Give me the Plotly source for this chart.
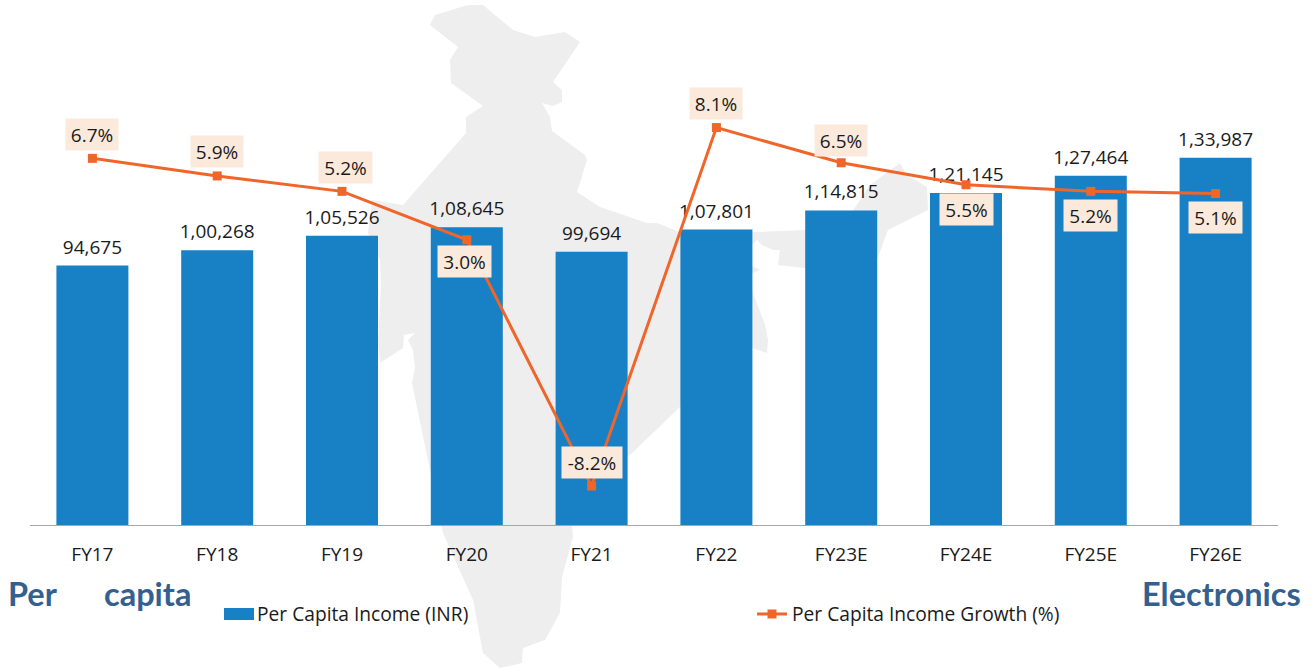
import plotly.graph_objects as go

categories = ["FY17", "FY18", "FY19", "FY20", "FY21", "FY22", "FY23E", "FY24E", "FY25E", "FY26E"]
income = [94675, 100268, 105526, 108645, 99694, 107801, 114815, 121145, 127464, 133987]
income_labels = ["94,675", "1,00,268", "1,05,526", "1,08,645", "99,694", "1,07,801", "1,14,815", "1,21,145", "1,27,464", "1,33,987"]
growth = [6.7, 5.9, 5.2, 3.0, -8.2, 8.1, 6.5, 5.5, 5.2, 5.1]
growth_labels = ["6.7%", "5.9%", "5.2%", "3.0%", "-8.2%", "8.1%", "6.5%", "5.5%", "5.2%", "5.1%"]

W, H = 1314, 669
L, R, T, B = 30, 1278, 0, 525
FONT = "Open Sans"
BLUE, ORANGE, INK = "#1880C4", "#F0652A", "#1A1A1A"

# label box offsets from each line point: (x px, y px up)
label_shift = [(0, 24), (0, 24), (3, 24), (-2, -22), (0, 24), (0, 24), (0, 22), (0, -25), (0, -24), (0, -24)]
label_width = [52, 52, 53, 53, 60, 52, 52, 53, 53, 53]

# background silhouette outline, page pixels
map_outline = [(430,25),(435,15),(468,5),(483,5),(513,30),(535,37),(565,32),(580,42),(553,82),(562,90),(562,102),
    (553,106),(542,103),(550,117),(552,131),(585,155),(587,160),(577,192),(600,207),(647,223),(657,223),(680,232),
    (720,235),(755,232),(805,230),(850,215),(870,185),(900,163),(907,175),(927,187),(928,210),(888,230),(878,257),
    (805,268),(778,265),(780,250),(773,250),(762,245),(757,240),(752,245),(745,262),(760,270),(748,275),(752,290),
    (765,325),(768,340),(767,353),(752,348),(720,385),(680,407),(630,455),(600,470),(578,490),(572,525),(573,537),
    (562,577),(560,613),(545,640),(523,648),(522,663),(500,668),(483,653),(473,600),(443,533),(412,383),(415,368),
    (413,350),(408,340),(415,333),(404,335),(403,348),(380,363),(378,340),(381,285),(380,260),(368,233),(372,200),
    (403,205),(466,133),(466,117),(483,106),(451,83),(450,60),(458,47)]

def px(x): return (x - L) / (R - L)
def py(y): return (B - y) / (B - T)

map_path = "M" + " L".join(f"{px(x):.5f},{py(y):.5f}" for x, y in map_outline) + " Z"

fig = go.Figure()
fig.add_bar(x=categories, y=income, name="Per Capita Income (INR)", width=0.577,
            marker=dict(color=BLUE, line=dict(width=0)))
fig.add_scatter(x=categories, y=income, mode="markers+text", text=income_labels, textposition="top center",
                marker=dict(size=10, opacity=0), showlegend=False, hoverinfo="skip",
                textfont=dict(family=FONT, size=19, color=INK), cliponaxis=False)
fig.add_scatter(x=categories, y=growth, yaxis="y2", mode="lines+markers", name="Per Capita Income Growth (%)",
                line=dict(color=ORANGE, width=3), marker=dict(symbol="square", size=9, color=ORANGE))

annotations = []
for c, g, t, (dx, dy), w in zip(categories, growth, growth_labels, label_shift, label_width):
    annotations.append(dict(x=c, y=g, xref="x", yref="y2", text=t, showarrow=False, xanchor="center", yanchor="middle",
                            xshift=dx, yshift=dy, width=w, height=31, bgcolor="#FBEADB", borderpad=0,
                            font=dict(family=FONT, size=19, color=INK)))
for text, x, anchor in [("Per", 8, "left"), ("capita", 104, "left"), ("Electronics", 1301, "right")]:
    annotations.append(dict(x=px(x), y=py(593), xref="paper", yref="paper", text=text, showarrow=False,
                            xanchor=anchor, yanchor="middle", borderpad=0, borderwidth=0,
                            font=dict(family="Lato", size=32.5, color="#34608F", weight="bold")))

fig.update_layout(
    width=W, height=H, autosize=False, margin=dict(l=L, r=W - R, t=T, b=H - B, pad=0),
    paper_bgcolor="white", plot_bgcolor="rgba(0,0,0,0)", bargap=0.42,
    font=dict(family=FONT, color=INK),
    xaxis=dict(type="category", range=[-0.5, 9.5], showgrid=False, showline=True, linecolor="#A6A6A6", linewidth=1,
               ticks="outside", ticklen=0, ticklabelstandoff=12, tickfont=dict(family=FONT, size=19, color=INK),
               fixedrange=True),
    yaxis=dict(range=[0, 191600], visible=False, fixedrange=True),
    yaxis2=dict(range=[-9.97, 13.9], overlaying="y", side="right", visible=False, fixedrange=True),
    legend=dict(orientation="h", x=px(217), y=py(595), xanchor="left", yanchor="top", entrywidth=490, entrywidthmode="pixels",
                bgcolor="rgba(0,0,0,0)", font=dict(family=FONT, size=19.2, color=INK), traceorder="normal",
                tracegroupgap=0),
    annotations=annotations,
    shapes=[
        dict(type="path", path=map_path, xref="paper", yref="paper", fillcolor="#EEEEEE", line=dict(width=0), layer="below"),
        dict(type="rect", xref="paper", yref="paper", x0=px(224), x1=px(254), y0=py(608), y1=py(620),
             fillcolor=BLUE, line=dict(width=0), layer="above"),
    ],
    showlegend=True,
)
fig.write_html("out.html", config=dict(displayModeBar=False),
               post_script="document.body.style.margin='0';")
